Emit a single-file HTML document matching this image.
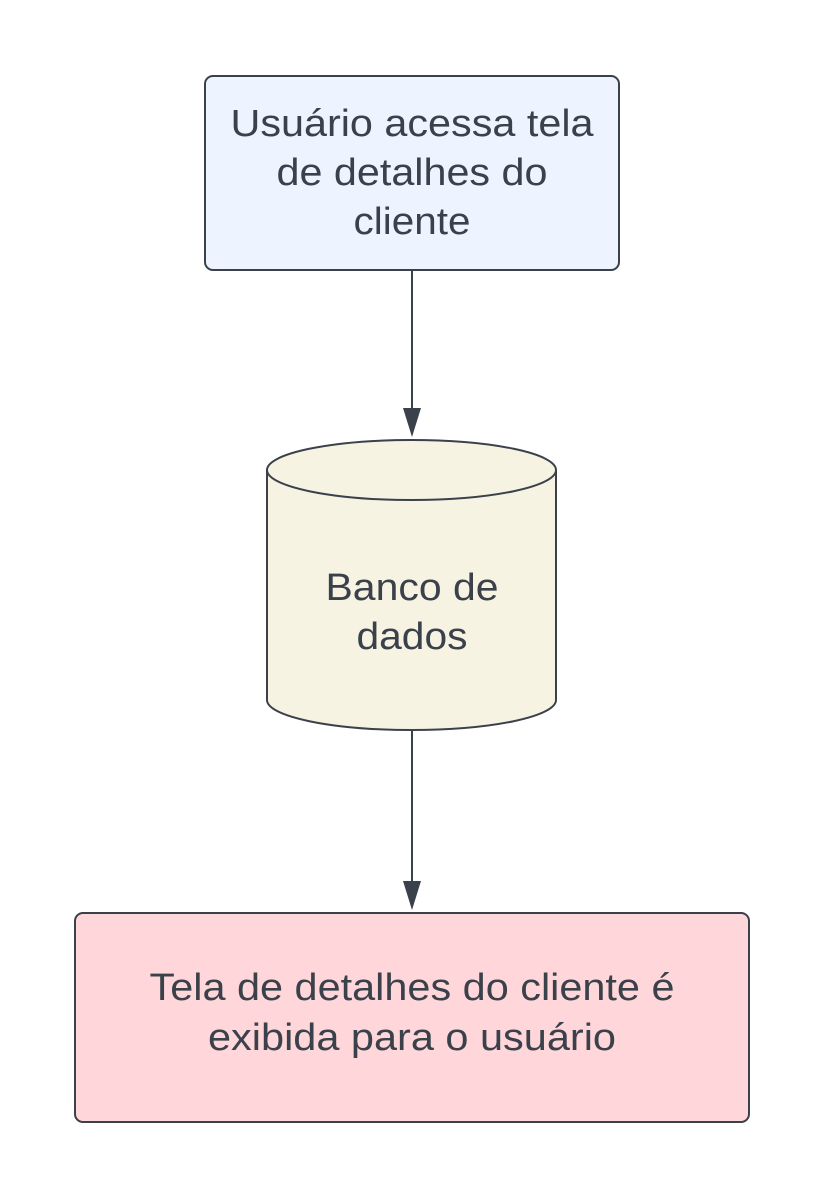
<!DOCTYPE html>
<html><head><meta charset="utf-8"><style>
html,body{margin:0;padding:0;background:#fff;}
svg text{font-family:"Liberation Sans",sans-serif;font-size:38px;fill:#3a414a;text-anchor:middle;}
</style></head><body>
<svg width="825" height="1198" viewBox="0 0 825 1198" xmlns="http://www.w3.org/2000/svg">
<rect x="205" y="76" width="414" height="194" rx="8" fill="#edf4ff" stroke="#3a414a" stroke-width="2"/>
<text x="412" y="136" textLength="363" lengthAdjust="spacingAndGlyphs">Usuário acessa tela</text>
<text x="412" y="185" textLength="271" lengthAdjust="spacingAndGlyphs">de detalhes do</text>
<text x="412" y="234" textLength="117" lengthAdjust="spacingAndGlyphs">cliente</text>
<line x1="412" y1="270" x2="412" y2="410" stroke="#3a414a" stroke-width="2"/>
<polygon points="403,408 421,408 412,437" fill="#3a414a"/>
<path d="M267,470 L267,700 A144.5,30 0 0 0 556,700 L556,470" fill="#f7f3e3" stroke="#3a414a" stroke-width="2"/>
<ellipse cx="411.5" cy="470" rx="144.5" ry="30" fill="#f7f3e3" stroke="#3a414a" stroke-width="2"/>
<text x="412" y="600" textLength="173" lengthAdjust="spacingAndGlyphs">Banco de</text>
<text x="412" y="649" textLength="111" lengthAdjust="spacingAndGlyphs">dados</text>
<line x1="412" y1="730" x2="412" y2="883" stroke="#3a414a" stroke-width="2"/>
<polygon points="403,881 421,881 412,910" fill="#3a414a"/>
<rect x="75" y="913" width="674" height="209" rx="8" fill="#ffd6d9" stroke="#3a414a" stroke-width="2"/>
<text x="412" y="1000" textLength="525" lengthAdjust="spacingAndGlyphs">Tela de detalhes do cliente é</text>
<text x="412" y="1050" textLength="408" lengthAdjust="spacingAndGlyphs">exibida para o usuário</text>
</svg>
</body></html>
